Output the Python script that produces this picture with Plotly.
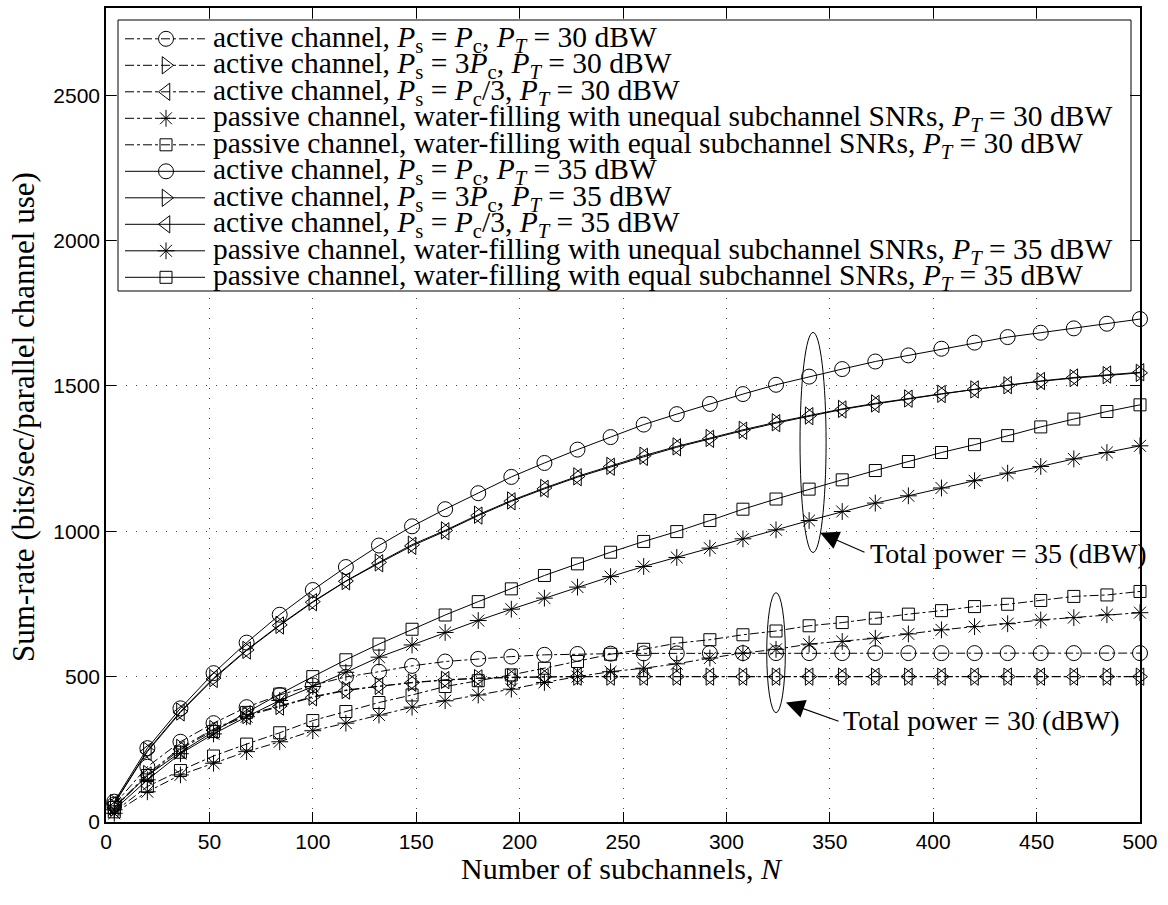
import plotly.graph_objects as go

# ---------------- data ----------------
N = [4, 20, 36, 52, 68, 84, 100, 116, 132, 148, 164, 180, 196, 212, 228, 244,
     260, 276, 292, 308, 324, 340, 356, 372, 388, 404, 420, 436, 452, 468, 484, 500]

# P_T = 35 dBW
act_eq_35 = [70, 254, 391, 512, 617, 713, 798, 877, 951, 1017, 1076, 1131, 1187, 1235, 1281, 1324,
             1367, 1403, 1438, 1472, 1504, 1532, 1558, 1584, 1605, 1628, 1649, 1668, 1683, 1698, 1714, 1730]
act_3_35 = [65, 245, 380, 495, 592, 678, 758, 829, 893, 954, 1003, 1057, 1106, 1149, 1189, 1225,
            1260, 1292, 1321, 1349, 1375, 1398, 1421, 1440, 1457, 1473, 1488, 1502, 1516, 1527, 1537, 1545]
act_d3_35 = [63, 242, 377, 492, 590, 676, 756, 828, 890, 950, 1000, 1054, 1103, 1146, 1186, 1222,
             1256, 1289, 1318, 1346, 1372, 1396, 1419, 1438, 1456, 1472, 1488, 1503, 1517, 1529, 1539, 1547]
pas_uneq_35 = [42, 145, 235, 303, 362, 418, 466, 515, 567, 609, 652, 693, 732, 770, 808, 844,
               879, 910, 942, 974, 1005, 1037, 1068, 1097, 1122, 1149, 1174, 1200, 1223, 1249, 1271, 1294]
pas_eq_35 = [50, 160, 240, 311, 377, 440, 500, 558, 612, 663, 712, 758, 802, 848, 888, 928,
             965, 999, 1037, 1076, 1111, 1145, 1177, 1209, 1240, 1271, 1298, 1329, 1359, 1386, 1412, 1435]

# P_T = 30 dBW
act_eq_30 = [60, 190, 276, 340, 395, 437, 470, 499, 517, 537, 552, 561, 569, 575, 578, 579,
             580, 580, 581, 581, 581, 581, 581, 581, 581, 581, 581, 581, 581, 581, 581, 581]
act_3_30 = [50, 165, 255, 320, 368, 399, 431, 454, 468, 480, 489, 495, 498, 500, 500, 500,
            500, 500, 500, 500, 500, 500, 500, 500, 500, 500, 500, 500, 500, 500, 500, 500]
act_d3_30 = [48, 160, 250, 316, 365, 397, 429, 452, 467, 479, 488, 494, 497, 499, 500, 500,
             500, 500, 500, 500, 500, 500, 500, 500, 500, 500, 500, 500, 500, 500, 500, 500]
pas_uneq_30 = [30, 104, 162, 202, 242, 276, 314, 340, 368, 395, 417, 437, 457, 480, 500, 517,
               529, 544, 564, 581, 594, 612, 621, 632, 647, 661, 672, 682, 695, 703, 713, 720]
pas_eq_30 = [35, 122, 177, 227, 268, 307, 349, 380, 411, 437, 466, 486, 506, 529, 552, 577,
             594, 615, 627, 644, 657, 675, 686, 701, 715, 727, 741, 749, 762, 776, 781, 793]

labels = [
    "active channel, <i>P</i><sub>s</sub> = <i>P</i><sub>c</sub>, <i>P<sub>T</sub></i> = 30 dBW",
    "active channel, <i>P</i><sub>s</sub> = 3<i>P</i><sub>c</sub>, <i>P<sub>T</sub></i> = 30 dBW",
    "active channel, <i>P</i><sub>s</sub> = <i>P</i><sub>c</sub>/3, <i>P<sub>T</sub></i> = 30 dBW",
    "passive channel, water-filling with unequal subchannel SNRs, <i>P<sub>T</sub></i> = 30 dBW",
    "passive channel, water-filling with equal subchannel SNRs, <i>P<sub>T</sub></i> = 30 dBW",
    "active channel, <i>P</i><sub>s</sub> = <i>P</i><sub>c</sub>, <i>P<sub>T</sub></i> = 35 dBW",
    "active channel, <i>P</i><sub>s</sub> = 3<i>P</i><sub>c</sub>, <i>P<sub>T</sub></i> = 35 dBW",
    "active channel, <i>P</i><sub>s</sub> = <i>P</i><sub>c</sub>/3, <i>P<sub>T</sub></i> = 35 dBW",
    "passive channel, water-filling with unequal subchannel SNRs, <i>P<sub>T</sub></i> = 35 dBW",
    "passive channel, water-filling with equal subchannel SNRs, <i>P<sub>T</sub></i> = 35 dBW",
]
series = [act_eq_30, act_3_30, act_d3_30, pas_uneq_30, pas_eq_30,
          act_eq_35, act_3_35, act_d3_35, pas_uneq_35, pas_eq_35]

x_ticks = [0, 50, 100, 150, 200, 250, 300, 350, 400, 450, 500]
y_ticks = [0, 500, 1000, 1500, 2000, 2500]

x_title = "Number of subchannels, <i>N</i>"
y_title = "Sum-rate (bits/sec/parallel channel use)"
note_35 = "Total power = 35 (dBW)"
note_30 = "Total power = 30 (dBW)"

# ---------------- styling ----------------
symbols = ["circle-open", "triangle-right-open", "triangle-left-open", "asterisk-open", "square-open"] * 2
sizes = [15, 15, 15, 14, 12] * 2
dashes = ["dashdot"] * 5 + ["solid"] * 5

W, H = 1168, 905
PL, PR, PT, PB = 106, 1140, 8, 822
XR = [0, 500]
YR = [0, 2800]


def px2x(px):
    return XR[0] + (px - PL) / (PR - PL) * (XR[1] - XR[0])


def py2y(py):
    return YR[0] + (PB - py) / (PB - PT) * (YR[1] - YR[0])


def px2paper(px):
    return (px - PL) / (PR - PL)


def py2paper(py):
    return (PB - py) / (PB - PT)


SERIF = "Liberation Serif"
SANS = "Liberation Sans"
TXT = 28
LEG_TXT = 29.5

fig = go.Figure()
for vals, sym, sz, dsh, lab in zip(series, symbols, sizes, dashes, labels):
    fig.add_trace(go.Scatter(
        x=N, y=vals, mode="lines+markers", name=lab, showlegend=False,
        line=dict(color="black", width=1, dash=dsh),
        marker=dict(symbol=sym, size=sz, color="black", line=dict(color="black", width=1)),
        cliponaxis=False,
    ))

shapes = []
annotations = []

# ---- manual legend ----
box_l, box_r, box_t, box_b = 118, 1131, 20, 291
shapes.append(dict(type="rect", xref="x", yref="y", layer="between",
                   x0=px2x(box_l), x1=px2x(box_r), y0=py2y(box_b), y1=py2y(box_t),
                   fillcolor="white", line=dict(color="black", width=1)))
row0, row_step = 38.8, 26.5
for i, (sym, sz, dsh, lab) in enumerate(zip(symbols, sizes, dashes, labels)):
    yy = py2y(row0 + row_step * i)
    shapes.append(dict(type="line", xref="x", yref="y", layer="between",
                       x0=px2x(125), x1=px2x(205), y0=yy, y1=yy,
                       line=dict(color="black", width=1, dash=dsh)))
    fig.add_trace(go.Scatter(
        x=[px2x(166)], y=[yy], mode="markers", showlegend=False, hoverinfo="skip",
        marker=dict(symbol=sym, size=sz, color="black", line=dict(color="black", width=1)),
    ))
    annotations.append(dict(x=px2x(211), y=yy, xref="x", yref="y", text=lab, showarrow=False,
                            xanchor="left", yanchor="middle",
                            font=dict(family=SERIF, size=LEG_TXT, color="black")))

# ---- ellipses ----
shapes.append(dict(type="circle", xref="x", yref="y", x0=335.6, x1=348.2, y0=927, y1=1684,
                   line=dict(color="black", width=1)))
shapes.append(dict(type="circle", xref="x", yref="y", x0=319.5, x1=328.5, y0=376, y1=789,
                   line=dict(color="black", width=1)))

# ---- arrows + labels ----
annotations.append(dict(x=345.3, y=995, ax=367.5, ay=926, xref="x", yref="y", axref="x", ayref="y",
                        text="", showarrow=True, arrowhead=2, arrowsize=3.4, arrowwidth=1.1,
                        arrowcolor="black", standoff=0))
annotations.append(dict(x=px2x(868), y=py2y(553), xref="x", yref="y", text=note_35,
                        showarrow=False, xanchor="left", yanchor="middle",
                        font=dict(family=SERIF, size=TXT, color="black")))
annotations.append(dict(x=328.8, y=411, ax=355, ay=345, xref="x", yref="y", axref="x", ayref="y",
                        text="", showarrow=True, arrowhead=2, arrowsize=3.4, arrowwidth=1.1,
                        arrowcolor="black", standoff=0))
annotations.append(dict(x=px2x(841), y=py2y(720), xref="x", yref="y", text=note_30,
                        showarrow=False, xanchor="left", yanchor="middle",
                        font=dict(family=SERIF, size=TXT, color="black")))

# ---- axis titles ----
annotations.append(dict(x=px2paper(622), y=py2paper(869), xref="paper", yref="paper", text=x_title,
                        showarrow=False, xanchor="center", yanchor="middle",
                        font=dict(family=SERIF, size=30, color="black")))
annotations.append(dict(x=px2paper(23), y=py2paper(417), xref="paper", yref="paper", text=y_title,
                        showarrow=False, xanchor="center", yanchor="middle", textangle=-90,
                        font=dict(family=SERIF, size=31, color="black")))

axis_common = dict(
    showline=True, linecolor="black", linewidth=1.5, mirror="ticks",
    ticks="inside", ticklen=10, tickwidth=1, tickcolor="black",
    showgrid=True, gridcolor="#444", gridwidth=1, griddash="1px,9px",
    zeroline=False, tickfont=dict(family=SANS, size=21, color="black"),
)

fig.update_layout(
    width=W, height=H,
    margin=dict(l=PL, r=W - PR, t=PT, b=H - PB, autoexpand=False),
    paper_bgcolor="white", plot_bgcolor="white",
    xaxis=dict(range=XR, tickvals=x_ticks, ticktext=[str(v) for v in x_ticks], **axis_common),
    yaxis=dict(range=YR, tickvals=y_ticks, ticktext=[str(v) for v in y_ticks], **axis_common),
    shapes=shapes, annotations=annotations,
    showlegend=False,
)

fig.write_html("out.html")
